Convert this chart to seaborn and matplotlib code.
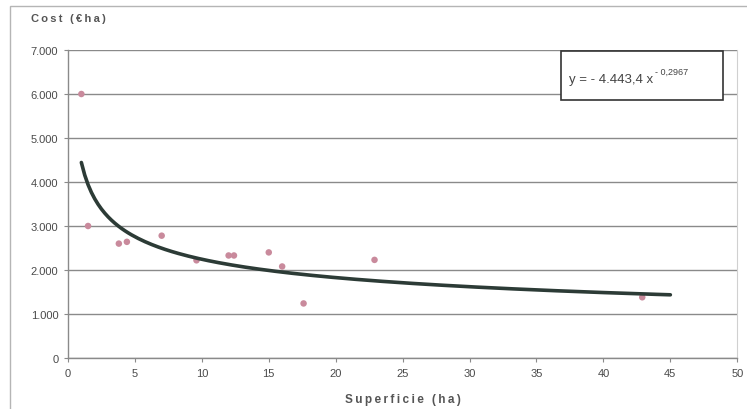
import numpy as np
import pandas as pd
import seaborn as sns
import matplotlib.pyplot as plt
from matplotlib.patches import Rectangle
from matplotlib.ticker import FuncFormatter

# data
superficie = [1.0, 1.5, 3.8, 4.4, 7.0, 9.6, 12.0, 12.4, 15.0, 16.0, 17.6, 22.9, 42.9]
cost = [6000, 3000, 2600, 2640, 2780, 2220, 2330, 2330, 2400, 2080, 1240, 2230, 1380]

# power trendline, coefficients as printed on the chart
coef_a = 4443.4
coef_b = -0.2967
trend_x = np.arange(1, 45.25, 0.25)

x_ticks = list(range(0, 55, 5))
y_ticks = list(range(0, 8000, 1000))

df = pd.DataFrame({'superficie': superficie, 'cost': cost})
trend = pd.DataFrame({'x': trend_x, 'y': coef_a * trend_x ** coef_b})

sns.set_style("white")
plt.rcParams['font.family'] = ['Liberation Sans', 'DejaVu Sans']


def spaced(s):
    # rough letter spacing with thin spaces
    return '\u2009'.join(s)


fig = plt.figure(figsize=(7.47, 4.10), dpi=100)
ax = fig.add_axes([0.091, 0.1244, 0.896, 0.7512])

# outer chart frame
fig.patches.append(Rectangle((10 / 747, -0.05), 1.0, 1 - 7 / 410 + 0.05,
                             transform=fig.transFigure, fill=False,
                             edgecolor='#b5b5b5', linewidth=1.0))

sns.scatterplot(data=df, x='superficie', y='cost', ax=ax, color='#c98a9c',
                s=22, edgecolor='none', zorder=3)
sns.lineplot(data=trend, x='x', y='y', ax=ax, color='#2c3b36', linewidth=2.6,
             zorder=4)

ax.set_xlim(0, 50)
ax.set_ylim(0, 7000)
ax.set_xticks(x_ticks)
ax.set_yticks(y_ticks)
ax.yaxis.set_major_formatter(FuncFormatter(lambda v, p: f'{int(v):,}'.replace(',', '.')))
ax.grid(axis='y', color='#8a8a8a', linewidth=1.0)
ax.set_axisbelow(True)

for s in ['left', 'bottom']:
    ax.spines[s].set_color('#8a8a8a')
    ax.spines[s].set_linewidth(1.0)
ax.spines['right'].set_color('#d0d0d0')
ax.spines['top'].set_visible(False)

ax.tick_params(axis='both', which='both', length=3, direction='out',
               color='#8a8a8a', labelsize=8, labelcolor='#4a4a4a', pad=4)
ax.xaxis.set_ticks_position('bottom')
ax.yaxis.set_ticks_position('left')

ax.set_xlabel(spaced('Superficie (ha)'), fontsize=8.5, fontweight='bold',
              color='#555555', labelpad=11)
ax.set_ylabel('')
fig.text(31 / 747, 1 - 19 / 410, spaced('Cost (€ha)'), fontsize=8, fontweight='bold',
         color='#555555', ha='left', va='center')

# equation box
ax.add_patch(Rectangle((561 / 747, 1 - 101 / 410), 162 / 747, 49 / 410,
                       transform=fig.transFigure, facecolor='white',
                       edgecolor='#333333', linewidth=1.2, zorder=5))
eq = fig.text(569 / 747, 1 - 80 / 410, 'y = - 4.443,4 x', fontsize=9.5,
              color='#444444', ha='left', va='center', zorder=6)
fig.canvas.draw()
bb = eq.get_window_extent()
fig.text((bb.x1 + 2) / 747, 1 - 72 / 410, '- 0,2967', fontsize=6.5,
         color='#444444', ha='left', va='center', zorder=6)

fig.savefig('out.png', dpi=100)
